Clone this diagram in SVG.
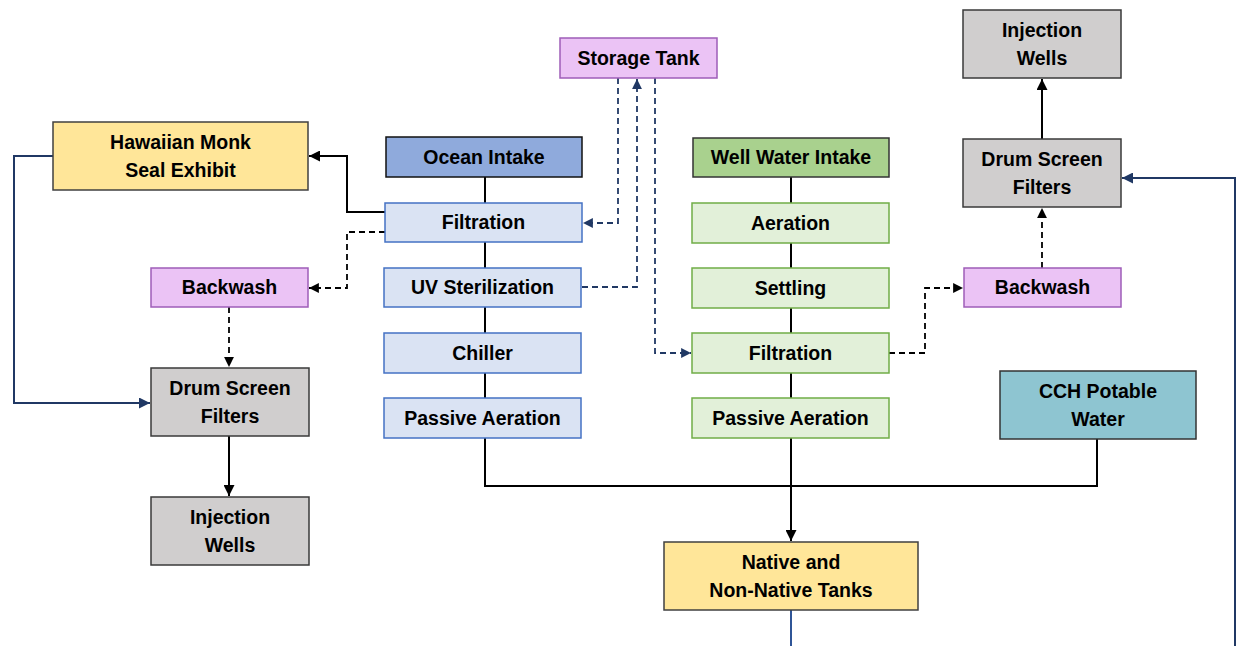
<svg xmlns="http://www.w3.org/2000/svg" width="1238" height="646" viewBox="0 0 1238 646">
<defs>
<marker id="ab" viewBox="0 0 10 10" refX="10" refY="5" markerWidth="5.5" markerHeight="5.5" orient="auto" markerUnits="strokeWidth"><path d="M0,0 L10,5 L0,10 z" fill="#000"/></marker>
<marker id="an" viewBox="0 0 10 10" refX="10" refY="5" markerWidth="5.5" markerHeight="5.5" orient="auto" markerUnits="strokeWidth"><path d="M0,0 L10,5 L0,10 z" fill="#203864"/></marker>
<style>
text{font-family:"Liberation Sans",Arial,sans-serif;font-weight:bold;font-size:19.5px;fill:#000;text-anchor:middle}
.purple{fill:#EBC3F5;stroke:#9E5DB8;stroke-width:1.5}
.gray{fill:#D0CECE;stroke:#3A3A3A;stroke-width:1.5}
.yellow{fill:#FFE699;stroke:#404040;stroke-width:1.5}
.ocean{fill:#8FAADC;stroke:#111;stroke-width:1.5}
.lblue{fill:#DAE3F3;stroke:#4472C4;stroke-width:1.5}
.well{fill:#A9D18E;stroke:#333;stroke-width:1.5}
.lgreen{fill:#E2F0D9;stroke:#70AD47;stroke-width:1.5}
.cch{fill:#8EC5D1;stroke:#333;stroke-width:1.5}
.solid{fill:none;stroke:#000;stroke-width:2}
.dash{fill:none;stroke:#000;stroke-width:1.8;stroke-dasharray:6 4}
.ndash{fill:none;stroke:#203864;stroke-width:1.8;stroke-dasharray:6 4}
.navy{fill:none;stroke:#203864;stroke-width:2}
.blue{fill:none;stroke:#2F5597;stroke-width:2}
</style>
</defs>
<g id="connectors">
<path class="solid" d="M485,177 V203 M485,242 V268 M485,307 V333 M485,373 V398"/>
<path class="solid" d="M791,177 V203 M791,243 V268 M791,308 V333 M791,373 V398"/>
<path class="solid" d="M485,438 V486 H1097 V439"/>
<path class="solid" d="M791,438 V541" marker-end="url(#ab)"/>
<path class="solid" d="M385,212 H347 V156 H309" marker-end="url(#ab)"/>
<path class="dash" d="M385,232 H347 V288 H309" marker-end="url(#ab)"/>
<path class="dash" d="M229,307 V367" marker-end="url(#ab)"/>
<path class="solid" d="M229,436 V496" marker-end="url(#ab)"/>
<path class="navy" d="M53,156 H14 V403 H150" marker-end="url(#an)"/>
<path class="ndash" d="M618,78 V223 H583" marker-end="url(#an)"/>
<path class="ndash" d="M582,287 H637 V79" marker-end="url(#an)"/>
<path class="ndash" d="M655,78 V353 H691" marker-end="url(#an)"/>
<path class="dash" d="M889,353 H925 V288 H963" marker-end="url(#ab)"/>
<path class="dash" d="M1042,268 V208" marker-end="url(#ab)"/>
<path class="solid" d="M1042,139 V79" marker-end="url(#ab)"/>
<path class="blue" d="M791,610 V646"/>
<path class="navy" d="M1235,646 V178 H1122" marker-end="url(#an)"/>
</g>
<g id="storage-tank"><rect class="purple" x="560" y="38" width="157" height="40"/><text x="638.5" y="65">Storage Tank</text></g>
<g id="monk-seal"><rect class="yellow" x="53" y="122" width="255" height="68"/><text x="180.5" y="149">Hawaiian Monk</text><text x="180.5" y="177">Seal Exhibit</text></g>
<g id="ocean-intake"><rect class="ocean" x="386" y="137" width="196" height="40"/><text x="484" y="164">Ocean Intake</text></g>
<g id="ocean-filtration"><rect class="lblue" x="385" y="203" width="197" height="39"/><text x="483.5" y="229">Filtration</text></g>
<g id="uv"><rect class="lblue" x="384" y="268" width="197" height="39"/><text x="482.5" y="294">UV Sterilization</text></g>
<g id="chiller"><rect class="lblue" x="384" y="333" width="197" height="40"/><text x="482.5" y="360">Chiller</text></g>
<g id="ocean-passive"><rect class="lblue" x="384" y="398" width="197" height="40"/><text x="482.5" y="425">Passive Aeration</text></g>
<g id="well-intake"><rect class="well" x="693" y="138" width="196" height="39"/><text x="791" y="164">Well Water Intake</text></g>
<g id="aeration"><rect class="lgreen" x="692" y="203" width="197" height="40"/><text x="790.5" y="230">Aeration</text></g>
<g id="settling"><rect class="lgreen" x="692" y="268" width="197" height="40"/><text x="790.5" y="295">Settling</text></g>
<g id="well-filtration"><rect class="lgreen" x="692" y="333" width="197" height="40"/><text x="790.5" y="360">Filtration</text></g>
<g id="well-passive"><rect class="lgreen" x="692" y="398" width="197" height="40"/><text x="790.5" y="425">Passive Aeration</text></g>
<g id="injection-right"><rect class="gray" x="963" y="10" width="158" height="68"/><text x="1042" y="37">Injection</text><text x="1042" y="65">Wells</text></g>
<g id="drum-right"><rect class="gray" x="963" y="139" width="158" height="68"/><text x="1042" y="166">Drum Screen</text><text x="1042" y="194">Filters</text></g>
<g id="backwash-right"><rect class="purple" x="964" y="268" width="157" height="39"/><text x="1042.5" y="294">Backwash</text></g>
<g id="cch"><rect class="cch" x="1000" y="371" width="196" height="68"/><text x="1098" y="398">CCH Potable</text><text x="1098" y="426">Water</text></g>
<g id="backwash-left"><rect class="purple" x="151" y="268" width="157" height="39"/><text x="229.5" y="294">Backwash</text></g>
<g id="drum-left"><rect class="gray" x="151" y="368" width="158" height="68"/><text x="230" y="395">Drum Screen</text><text x="230" y="423">Filters</text></g>
<g id="injection-left"><rect class="gray" x="151" y="497" width="158" height="68"/><text x="230" y="524">Injection</text><text x="230" y="552">Wells</text></g>
<g id="native-tanks"><rect class="yellow" x="664" y="542" width="254" height="68"/><text x="791" y="569">Native and</text><text x="791" y="597">Non-Native Tanks</text></g>
</svg>
